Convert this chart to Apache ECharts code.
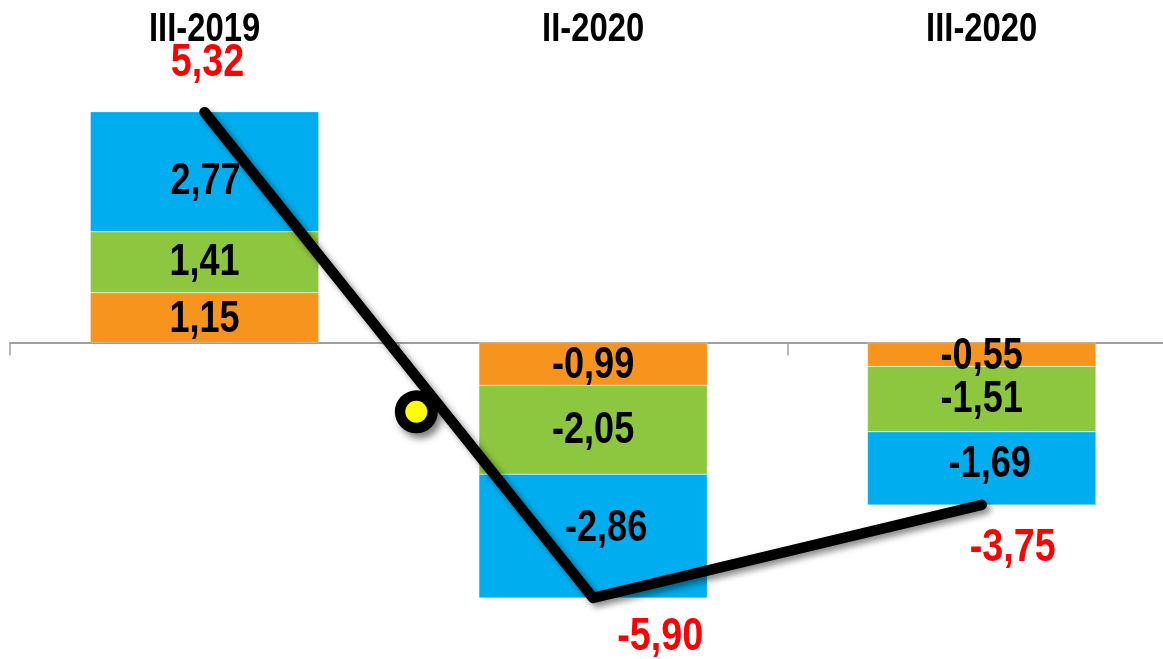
<!DOCTYPE html>
<html><head><meta charset="utf-8">
<script src="https://cdn.jsdelivr.net/npm/echarts@6/dist/echarts.min.js"></script>
<style>html,body{margin:0;padding:0;background:#fff;overflow:hidden}#c{width:1176px;height:659px}</style>
</head><body><div id="c"></div>
<script>
const categories = ['III-2019', 'II-2020', 'III-2020'];
const orangeVals = [1.15, -0.99, -0.55];
const greenVals = [1.41, -2.05, -1.51];
const blueVals = [2.77, -2.86, -1.69];
const totals = [5.32, -5.90, -3.75];
const dotPoint = [0.545, -1.6];

const FONT = '"Liberation Sans", Arial, sans-serif';
const SCALE_X = 0.82;
const fmt = v => v.toFixed(2).replace('.', ',');
// pixel nudges for labels (styling only)
const blueNudge = [[1, 10], [13, -7], [8, -3]];
const totalNudge = [[3, -49], [67, 39], [31, 43]];

// Build label rows from data: [catIndex, yValue, text, color, dx, dy, size]
const segLabels = [];
categories.forEach((c, i) => {
  const o = orangeVals[i], g = greenVals[i], b = blueVals[i];
  segLabels.push([i, o / 2, fmt(o), '#000', 0, 2, 44]);
  segLabels.push([i, o + g / 2, fmt(g), '#000', 0, 1, 44]);
  segLabels.push([i, o + g + b / 2, fmt(b), '#000', blueNudge[i][0], blueNudge[i][1], 44]);
  segLabels.push([i, totals[i], fmt(totals[i]), '#FF0000', totalNudge[i][0], totalNudge[i][1], 46]);
});
const catLabels = categories.map((c, i) => [i, 0, c]);

function barSeries(name, vals, color) {
  return {
    name, type: 'bar', stack: 'tot', barWidth: '58.8%', xAxisIndex: 0, yAxisIndex: 0,
    itemStyle: {color, borderColor: 'rgba(255,255,255,0.5)', borderWidth: 0.5},
    data: vals
  };
}

const chart = echarts.init(document.getElementById('c'));
chart.setOption({
  animation: false,
  grid: {left: 10.25, right: 0, top: 39.4, bottom: 13.4, containLabel: false},
  xAxis: [
    {type: 'category', data: categories, position: 'bottom',
     axisLine: {onZero: true, lineStyle: {color: '#a0a0a0', width: 2}},
     axisTick: {show: true, length: 13, lineStyle: {color: '#a0a0a0', width: 1.5}},
     axisLabel: {show: false}},
    {type: 'value', min: -0.5, max: 2.5, show: false}
  ],
  yAxis: [{type: 'value', min: -7, max: 7, show: false, splitLine: {show: false}}],
  series: [
    barSeries('orange', orangeVals, '#F7941E'),
    barSeries('green', greenVals, '#8DC63F'),
    barSeries('blue', blueVals, '#00AEEF'),
    {
      name: 'total', type: 'line', xAxisIndex: 0, yAxisIndex: 0, z: 5,
      symbol: 'none',
      lineStyle: {color: '#000', width: 10.5, cap: 'round', join: 'round',
        shadowColor: 'rgba(0,0,0,0.45)', shadowBlur: 6, shadowOffsetX: 4, shadowOffsetY: 4},
      data: totals
    },
    {
      name: 'dotRing', type: 'scatter', xAxisIndex: 1, yAxisIndex: 0, z: 6,
      symbol: 'circle', symbolSize: 43,
      itemStyle: {color: '#000', opacity: 1, shadowColor: 'rgba(0,0,0,0.5)', shadowBlur: 7, shadowOffsetX: 4, shadowOffsetY: 5},
      data: [dotPoint]
    },
    {
      name: 'dotCore', type: 'scatter', xAxisIndex: 1, yAxisIndex: 0, z: 7,
      symbol: 'circle', symbolSize: 22,
      itemStyle: {color: '#FFFF00', opacity: 1},
      data: [dotPoint]
    },
    {
      name: 'labels', type: 'custom', xAxisIndex: 0, yAxisIndex: 0, z: 10, clip: false,
      data: segLabels,
      renderItem: (params, api) => {
        const row = segLabels[params.dataIndex];
        const p = api.coord([row[0], row[1]]);
        return {
          type: 'text', x: p[0] + row[4], y: p[1] + row[5], scaleX: SCALE_X, z2: 10,
          style: {text: row[2], fill: row[3], fontFamily: FONT, fontWeight: 'bold', fontSize: row[6],
            align: 'center', verticalAlign: 'middle'}
        };
      }
    },
    {
      name: 'cats', type: 'custom', xAxisIndex: 0, yAxisIndex: 0, z: 10, clip: false,
      data: catLabels,
      renderItem: (params, api) => {
        const row = catLabels[params.dataIndex];
        const p = api.coord([row[0], row[1]]);
        return {
          type: 'text', x: p[0], y: 30, scaleX: SCALE_X,
          style: {text: row[2], fill: '#000', fontFamily: FONT, fontWeight: 'bold', fontSize: 40,
            align: 'center', verticalAlign: 'middle'}
        };
      }
    }
  ]
});
</script></body></html>
